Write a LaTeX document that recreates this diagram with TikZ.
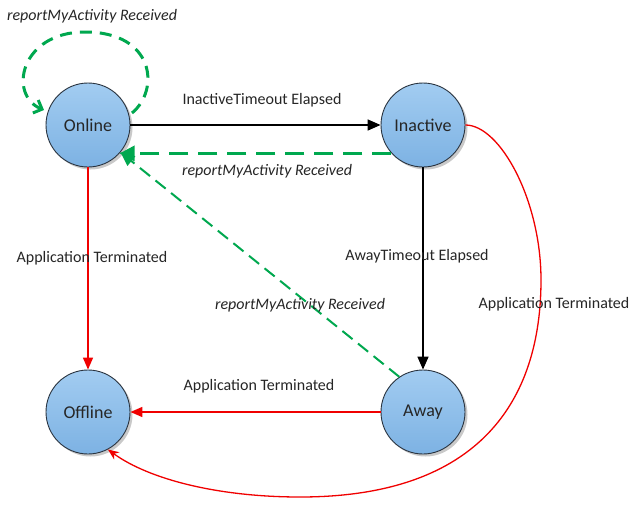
\documentclass[tikz,border=0pt]{standalone}
\usepackage{fontspec}
\setmainfont{Carlito}
\usetikzlibrary{arrows.meta,shadows}
\definecolor{offgreen}{HTML}{00A84F}
\definecolor{offred}{HTML}{F00000}
\definecolor{circtop}{HTML}{A2CCF1}
\definecolor{circbot}{HTML}{7DB2E3}
\definecolor{circline}{HTML}{2A3440}
\tikzset{
  state/.style={circle, minimum size=84pt, inner sep=0pt, draw=circline, line width=0.9pt,
    top color=circtop, bottom color=circbot,
    drop shadow={shadow xshift=2.5pt, shadow yshift=-2.5pt, fill=gray!70, opacity=0.6},
    font=\fontsize{18}{21}\selectfont, text=black!85},
  lbl/.style={font=\fontsize{16}{19}\selectfont, text=black!85},
  ilbl/.style={font=\fontsize{16}{19}\selectfont\itshape, text=black!85},
  blk/.style={draw=black, line width=1.6pt, -{Triangle[length=13pt,width=11pt]}},
  redarr/.style={draw=offred, line width=1.6pt, -{Triangle[length=12pt,width=10pt]}},
  redarc/.style={draw=offred, line width=1.3pt, -{Stealth[length=11pt,width=9pt]}},
  gthick/.style={draw=offgreen, line width=3pt, dash pattern=on 19pt off 10pt, -{Triangle[length=15pt,width=15pt]}},
  gloop/.style={draw=offgreen, line width=3pt, dash pattern=on 12pt off 8pt, -{Straight Barb[length=7pt,width=14pt]}},
  gdiag/.style={draw=offgreen, line width=2pt, dash pattern=on 13pt off 7pt, -{Triangle[length=14pt,width=12pt]}},
}
\begin{document}
\begin{tikzpicture}[x=1pt,y=-1pt]
\useasboundingbox[fill=white] (0,0) rectangle (643,509);
\node[state] (online) at (88,125) {Online};
\node[state] (inactive) at (423,125) {Inactive};
\node[state] (offline) at (88,412) {Offline};
\node[state] (away) at (423,412) {Away};

\coordinate (ls) at (132,113);
\coordinate (lt) at (85,32);
\coordinate (le) at (44,110);
\draw[gloop] (ls) .. controls (160,90) and (155,32) .. (lt) .. controls (20,32) and (8,95) .. (le);
\node[ilbl] (l1) at (92,16) {reportMyActivity Received};

\draw[blk] (online.east) -- (inactive.west);
\node[lbl] (l2) at (262,100) {InactiveTimeout Elapsed};

\draw[gthick] (inactive.-138) -- (online.-42);
\node[ilbl] (l3) at (267,171) {reportMyActivity Received};

\draw[redarr] (online.south) -- (offline.north);
\node[lbl] (l4) at (92,258) {Application Terminated};

\draw[blk] (inactive.south) -- (away.north);
\node[lbl] (l5) at (417,256) {AwayTimeout Elapsed};

\draw[gdiag] (away.124) -- (online.-40);
\node[ilbl] (l6) at (300,305) {reportMyActivity Received};

\draw[redarr] (away.west) -- (offline.east);
\node[lbl] (l7) at (259,386) {Application Terminated};

\draw[redarc] (inactive.east) .. controls (500,125) and (541,200) .. (541,280) .. controls (541,400) and (480,497) .. (300,497) .. controls (220,497) and (150,480) .. (offline.-62);
\node[lbl] (l8) at (554,304) {Application Terminated};
\end{tikzpicture}
\end{document}
